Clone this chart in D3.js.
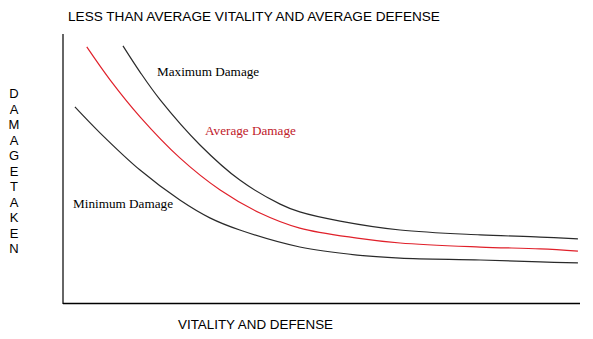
<!DOCTYPE html>
<html>
<head>
<meta charset="utf-8">
<script src="https://cdn.jsdelivr.net/npm/d3@7"></script>
<style>
  html, body { margin: 0; padding: 0; background: #fff; }
  svg { display: block; }
</style>
</head>
<body>
<svg id="chart" width="593" height="339"></svg>
<script>
// ---- data (arbitrary 0..100 units) ----
const title = "LESS THAN AVERAGE VITALITY AND AVERAGE DEFENSE";
const xLabel = "VITALITY AND DEFENSE";
const yLabel = "DAMAGETAKEN";
const seriesNames = ["Maximum Damage", "Average Damage", "Minimum Damage"];

const maxX = [11.6, 14.9, 18.8, 26.5, 34.2, 42.0, 45.8, 53.6, 65.2, 80.7, 92.3, 99.6];
const maxY = [95.6, 85.9, 75.6, 58.9, 45.9, 37.0, 34.1, 30.7, 27.4, 25.6, 24.8, 24.1];

const avgX = [4.6, 9.1, 14.9, 22.6, 30.4, 38.1, 45.8, 56.9, 65.2, 80.7, 92.3, 99.6];
const avgY = [95.2, 83.0, 69.3, 54.1, 42.2, 33.7, 28.1, 24.4, 22.6, 21.1, 20.4, 19.6];

const minX = [2.3, 7.2, 14.9, 22.6, 28.4, 34.2, 45.8, 56.9, 65.2, 80.7, 92.3, 99.6];
const minY = [73.0, 63.3, 49.6, 38.5, 31.9, 27.4, 21.1, 18.1, 17.0, 16.3, 15.6, 15.2];

(function () {
  // ---- layout ----
  const svg = d3.select("#chart");
  const mLeft = 63, mRight = 580, mTop = 34, mBottom = 304;
  const x = d3.scaleLinear().domain([0, 100]).range([mLeft, mRight]);
  const y = d3.scaleLinear().domain([0, 100]).range([mBottom, mTop]);

  // axes (plain lines, no ticks)
  svg.append("line")
    .attr("x1", x(0)).attr("x2", x(0))
    .attr("y1", y(0)).attr("y2", y(100))
    .attr("stroke", "#666").attr("stroke-width", 2);
  svg.append("line")
    .attr("x1", x(0)).attr("x2", x(100))
    .attr("y1", y(0) - 0.5).attr("y2", y(0) - 0.5)
    .attr("stroke", "#000").attr("stroke-width", 1.5);

  const line = d3.line()
    .x(d => x(d[0])).y(d => y(d[1]))
    .curve(d3.curveCatmullRom.alpha(0.5));

  const series = [
    { name: seriesNames[0], pts: d3.zip(maxX, maxY), color: "#2a2a2a", lx: 157, ly: 76, lc: "#000" },
    { name: seriesNames[1], pts: d3.zip(avgX, avgY), color: "#e0202a", lx: 205, ly: 135, lc: "#c0202a" },
    { name: seriesNames[2], pts: d3.zip(minX, minY), color: "#2a2a2a", lx: 73, ly: 208, lc: "#000" }
  ];

  series.forEach(s => {
    svg.append("path")
      .datum(s.pts)
      .attr("d", line)
      .attr("fill", "none")
      .attr("stroke", s.color)
      .attr("stroke-width", 1.2);
    svg.append("text")
      .attr("x", s.lx).attr("y", s.ly)
      .attr("font-family", "'Liberation Serif', 'Times New Roman', serif")
      .attr("font-size", 13.2)
      .attr("fill", s.lc)
      .text(s.name);
  });

  // title
  svg.append("text")
    .attr("x", 68).attr("y", 21)
    .attr("font-family", "'Liberation Sans', Arial, sans-serif")
    .attr("font-size", 13.6)
    .attr("fill", "#000")
    .text(title);

  // x label
  svg.append("text")
    .attr("x", 178).attr("y", 329)
    .attr("font-family", "'Liberation Sans', Arial, sans-serif")
    .attr("font-size", 13.4)
    .attr("fill", "#000")
    .text(xLabel);

  // y label: stacked letters
  svg.append("g").selectAll("text")
    .data(yLabel.split(""))
    .join("text")
    .attr("x", 14)
    .attr("y", (d, i) => 98 + i * 15.5)
    .attr("text-anchor", "middle")
    .attr("font-family", "'Liberation Sans', Arial, sans-serif")
    .attr("font-size", 13)
    .attr("fill", "#000")
    .text(d => d);
})();
</script>
</body>
</html>
